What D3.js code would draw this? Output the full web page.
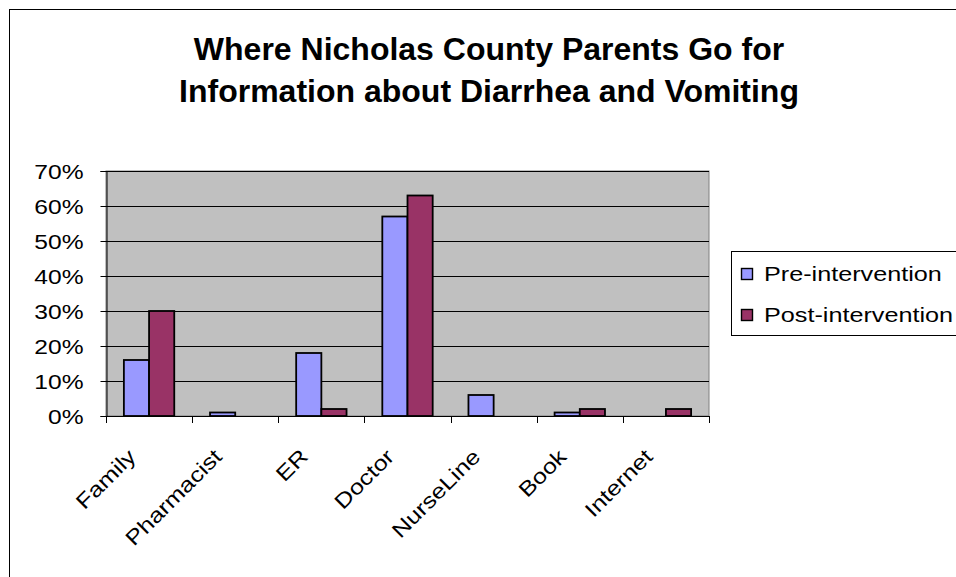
<!DOCTYPE html>
<html>
<head>
<meta charset="utf-8">
<script src="https://cdn.jsdelivr.net/npm/d3@7"></script>
<style>
  html, body { margin: 0; padding: 0; background: #fff; }
  svg { display: block; font-family: "Liberation Sans", Arial, sans-serif; }
</style>
</head>
<body>
<svg id="chart" width="956" height="577"></svg>
<script>
// Survey answers: where parents look for information
const categories = ["Family", "Pharmacist", "ER", "Doctor", "NurseLine", "Book", "Internet"];
const seriesNames = ["Pre-intervention", "Post-intervention"];
const preValues  = [0.16, 0.01, 0.18, 0.57, 0.06, 0.01, 0.00];
const postValues = [0.30, 0.00, 0.02, 0.63, 0.00, 0.02, 0.02];
const yTicks = [0, 0.1, 0.2, 0.3, 0.4, 0.5, 0.6, 0.7];
const colors = ["#9999FF", "#993366"];
const titleLines = ["Where Nicholas County Parents Go for", "Information about Diarrhea and Vomiting"];

const svg = d3.select("#chart");
const plot = { left: 106, right: 709, top: 171, bottom: 416 };
const stretch = 1.2; // wide sans look for axis and legend text

// outer chart frame
svg.append("rect")
  .attr("x", 9.5).attr("y", 9.5)
  .attr("width", 1000).attr("height", 1000)
  .attr("fill", "#fff").attr("stroke", "#000").attr("stroke-width", 1);

// title
svg.append("g").selectAll("text").data(titleLines).join("text")
  .attr("x", 489).attr("y", (d, i) => 60 + i * 42)
  .attr("text-anchor", "middle")
  .attr("font-size", 32).attr("font-weight", "bold")
  .text(d => d);

const x = d3.scaleBand().domain(categories).range([plot.left, plot.right]).paddingInner(0).paddingOuter(0);
const inner = d3.scaleBand().domain(seriesNames).range([0, x.bandwidth()]).paddingOuter(0.71).paddingInner(0);
const y = d3.scaleLinear().domain([0, 0.7]).range([plot.bottom, plot.top]);

// plot background
svg.append("rect")
  .attr("x", plot.left).attr("y", plot.top)
  .attr("width", plot.right - plot.left).attr("height", plot.bottom - plot.top)
  .attr("fill", "#C0C0C0").attr("stroke", "#808080").attr("stroke-width", 1);

// gridlines
svg.append("g").selectAll("line").data(yTicks.slice(1)).join("line")
  .attr("x1", plot.left).attr("x2", plot.right)
  .attr("y1", d => Math.round(y(d)) + 0.5).attr("y2", d => Math.round(y(d)) + 0.5)
  .attr("stroke", "#000").attr("stroke-width", 1);

// bars
const rows = categories.map((c, i) => ({ c, vals: [preValues[i], postValues[i]] }));
const groups = svg.append("g").selectAll("g").data(rows).join("g")
  .attr("transform", d => `translate(${x(d.c)},0)`);
groups.selectAll("rect")
  .data(d => d.vals.map((v, k) => ({ v, k })).filter(e => e.v > 0))
  .join("rect")
  .attr("x", e => inner(seriesNames[e.k]))
  .attr("width", inner.bandwidth())
  .attr("y", e => y(e.v))
  .attr("height", e => y(0) - y(e.v))
  .attr("fill", e => colors[e.k])
  .attr("stroke", "#000").attr("stroke-width", 1.8);

// y axis
const yAxis = d3.axisLeft(y).tickValues(yTicks).tickFormat(d3.format(".0%")).tickSize(6).tickPadding(0);
const ya = svg.append("g").attr("transform", `translate(${plot.left + 0.5},0)`).call(yAxis);
ya.select(".domain").attr("stroke", "#000");
ya.selectAll(".tick text")
  .attr("x", null).attr("dy", null)
  .attr("transform", `translate(-23,7) scale(${stretch},1)`)
  .attr("font-size", 20.5).attr("fill", "#000")
  .attr("font-family", "Liberation Sans, Arial, sans-serif");

// x axis baseline and category ticks
const xa = svg.append("g");
xa.append("line").attr("x1", plot.left).attr("x2", plot.right)
  .attr("y1", plot.bottom + 0.5).attr("y2", plot.bottom + 0.5).attr("stroke", "#000");
const bounds = categories.map(c => x(c)).concat([plot.right]);
xa.selectAll("line.tick").data(bounds).join("line").attr("class", "tick")
  .attr("x1", d => Math.round(d) + 0.5).attr("x2", d => Math.round(d) + 0.5)
  .attr("y1", plot.bottom).attr("y2", plot.bottom + 7).attr("stroke", "#000");
xa.selectAll("text").data(categories).join("text")
  .attr("transform", d => `translate(${x(d) + x.bandwidth() / 2 - 12},${plot.bottom + 42}) rotate(-45) scale(${stretch},1)`)
  .attr("text-anchor", "end")
  .attr("font-size", 21)
  .text(d => d);

// legend
const lg = svg.append("g");
lg.append("rect").attr("x", 731.5).attr("y", 251.5).attr("width", 300).attr("height", 84)
  .attr("fill", "#fff").attr("stroke", "#000");
const items = lg.selectAll("g").data(seriesNames).join("g")
  .attr("transform", (d, i) => `translate(741,${274 + i * 41})`);
items.append("rect").attr("x", 0.5).attr("y", -5.5).attr("width", 11).attr("height", 11)
  .attr("fill", (d, i) => colors[i]).attr("stroke", "#000").attr("stroke-width", 1.4);
items.append("text").attr("transform", `translate(23,7) scale(${stretch},1)`)
  .attr("font-size", 21).text(d => d);
</script>
</body>
</html>
